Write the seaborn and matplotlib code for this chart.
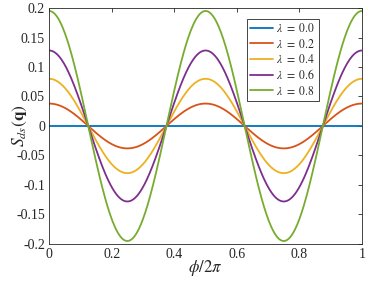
import numpy as np
import pandas as pd
import matplotlib
matplotlib.use("Agg")
import matplotlib.pyplot as plt
import seaborn as sns

sns.set_theme(style="white")
plt.rcParams['font.family'] = ['Liberation Serif', 'DejaVu Serif']
plt.rcParams['mathtext.fontset'] = 'stix'
plt.rcParams['axes.unicode_minus'] = False

lambdas = ["0.0", "0.2", "0.4", "0.6", "0.8"]
amplitudes = [0.0, 0.038, 0.080, 0.128, 0.195]   # peak values
colors = ["#0072BD", "#D95319", "#EDB120", "#7E2F8E", "#77AC30"]
xticks = [0, 0.2, 0.4, 0.6, 0.8, 1]
xticklabels = ["0", "0.2", "0.4", "0.6", "0.8", "1"]
yticks = [-0.2, -0.15, -0.1, -0.05, 0, 0.05, 0.1, 0.15, 0.2]
yticklabels = ["-0.2", "-0.15", "-0.1", "-0.05", "0", "0.05", "0.1", "0.15", "0.2"]

x = np.linspace(0, 1, 401)
rows = []
for lam, a in zip(lambdas, amplitudes):
    for xi, yi in zip(x, a * np.cos(4 * np.pi * x)):
        rows.append({"x": xi, "y": yi, "lam": r"$\lambda\ =\ " + lam + "$"})
df = pd.DataFrame(rows)

fig = plt.figure(figsize=(3.81, 2.86), dpi=100)
ax = fig.add_axes([0.129, 0.147, 0.821, 0.825])
sns.lineplot(data=df, x="x", y="y", hue="lam", palette=colors, linewidth=1.3, ax=ax)

ax.set_xlim(0, 1)
ax.set_ylim(-0.2, 0.2)
ax.set_xticks(xticks)
ax.set_xticklabels(xticklabels)
ax.set_yticks(yticks)
ax.set_yticklabels(yticklabels)
ax.tick_params(direction="in", length=3, width=0.6, colors="#262626", labelsize=10,
               top=True, right=True, pad=3)
for s in ax.spines.values():
    s.set_color("#262626")
    s.set_linewidth(0.6)
ax.set_xlabel(r"$\phi/2\pi$", fontsize=12, labelpad=-2)
ax.set_ylabel(r"$S_{ds}(\mathbf{q})$", fontsize=12.5, labelpad=-9)
leg = ax.legend(loc="upper right", bbox_to_anchor=(0.863, 0.955), borderaxespad=0,
                fontsize=8.5, frameon=True, fancybox=False, edgecolor="#262626",
                framealpha=1, handlelength=1.9, handletextpad=0.3, borderpad=0.3,
                labelspacing=0.2)
leg.get_frame().set_linewidth(0.6)
fig.savefig("out.png", dpi=100)
